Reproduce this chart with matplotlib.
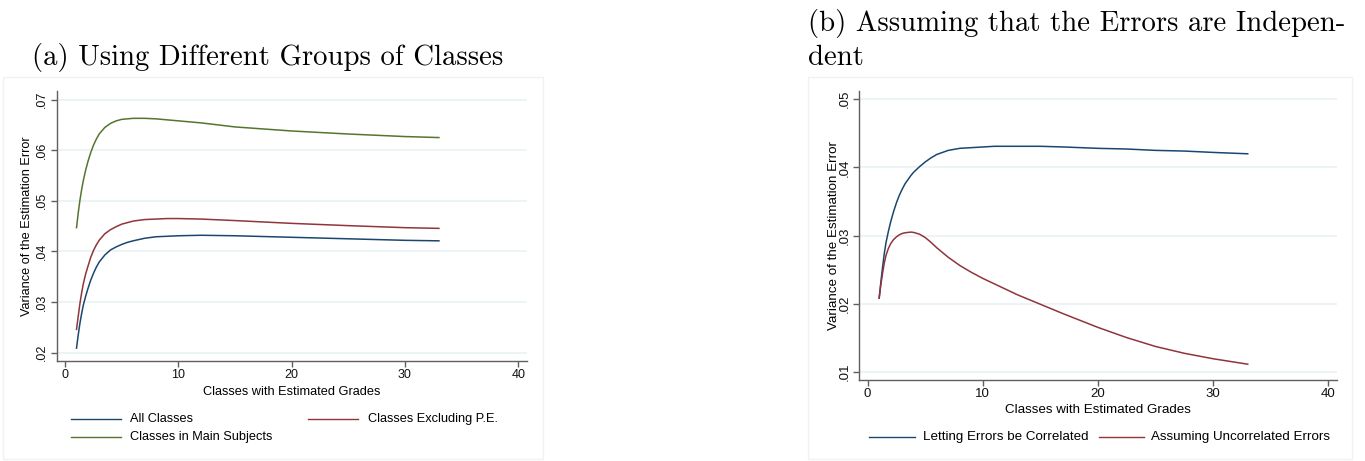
import matplotlib
matplotlib.use("Agg")
import matplotlib.pyplot as plt
from matplotlib.lines import Line2D
from matplotlib.patches import Rectangle

# ---- data: panel (a), variance of the estimation error by group of classes
x_a = [1, 1.15, 1.3, 1.45, 1.6, 1.8, 2, 2.25, 2.5, 2.75, 3, 3.5, 4, 4.5, 5,
       5.5, 6, 7, 8, 9, 10, 12, 15, 20, 25, 30, 33]
all_classes = [0.0209, 0.0235, 0.0258, 0.0277, 0.0294, 0.0311, 0.0326, 0.0343,
               0.0357, 0.0369, 0.0379, 0.0393, 0.0403, 0.0409, 0.0414, 0.0418,
               0.0421, 0.0426, 0.0429, 0.0430, 0.0431, 0.0432, 0.0431, 0.0428,
               0.0425, 0.0422, 0.0421]
excl_pe = [0.0246, 0.0272, 0.0297, 0.0318, 0.0336, 0.0355, 0.0370, 0.0388,
           0.0402, 0.0413, 0.0422, 0.0435, 0.0443, 0.0449, 0.0454, 0.0457,
           0.0460, 0.0463, 0.0464, 0.0465, 0.0465, 0.0464, 0.0461, 0.04555,
           0.0451, 0.0447, 0.04456]
main_subjects = [0.0447, 0.0476, 0.0501, 0.0522, 0.0540, 0.0560, 0.0577, 0.0595,
                 0.0610, 0.0622, 0.0632, 0.0645, 0.0653, 0.0658, 0.0661, 0.0662,
                 0.0663, 0.0663, 0.0662, 0.0660, 0.0658, 0.0654, 0.0646, 0.0638,
                 0.0632, 0.0627, 0.0625]

# ---- data: panel (b), correlated vs. uncorrelated errors
x_b = [1, 1.15, 1.3, 1.45, 1.6, 1.8, 2, 2.25, 2.5, 2.75, 3, 3.25, 3.5, 3.75,
       4, 4.5, 5, 5.5, 6, 6.5, 7, 8, 9, 10, 11, 12, 13, 14, 15, 17, 20, 22.5,
       25, 27.5, 30, 33]
correlated = [0.0208, 0.0232, 0.0254, 0.0274, 0.0290, 0.0306, 0.0320, 0.0335,
              0.0348, 0.0359, 0.0368, 0.0376, 0.0382, 0.0388, 0.0393, 0.0401,
              0.0408, 0.0414, 0.0419, 0.0422, 0.0425, 0.0428, 0.0429, 0.0430,
              0.0431, 0.0431, 0.0431, 0.0431, 0.0431, 0.0430, 0.0428, 0.0427,
              0.0425, 0.0424, 0.0422, 0.0420]
uncorrelated = [0.0208, 0.0228, 0.0245, 0.0260, 0.0271, 0.0281, 0.0288, 0.0294,
                0.0298, 0.0301, 0.0303, 0.0304, 0.03045, 0.0305, 0.03045,
                0.0302, 0.0297, 0.0290, 0.0282, 0.0275, 0.0268, 0.0256, 0.0246,
                0.0237, 0.0229, 0.0221, 0.0213, 0.0206, 0.0199, 0.0185, 0.0165,
                0.0150, 0.0137, 0.0127, 0.0119, 0.0111]

x_ticks = [0, 10, 20, 30, 40]
y_ticks_a = [0.02, 0.03, 0.04, 0.05, 0.06, 0.07]
y_labels_a = [".02", ".03", ".04", ".05", ".06", ".07"]
y_ticks_b = [0.01, 0.02, 0.03, 0.04, 0.05]
y_labels_b = [".01", ".02", ".03", ".04", ".05"]

NAVY = "#1a476f"
MAROON = "#90353b"
GREEN = "#55752f"
GRID = "#eaf2f3"
AXIS = "#606060"
SANS = ["Liberation Sans", "DejaVu Sans"]
SERIF = ["cmr10", "DejaVu Serif"]

W, H = 1365, 461
fig = plt.figure(figsize=(W / 100, H / 100), dpi=100)
fig.patch.set_facecolor("white")


def fx(px):
    return px / W


def fy(py):
    return 1 - py / H


def style_axes(ax, yticks, ylabels, ylim, fs):
    ax.set_xlim(-0.75, 40.75)
    ax.set_ylim(*ylim)
    for s in ("top", "right"):
        ax.spines[s].set_visible(False)
    for s in ("left", "bottom"):
        ax.spines[s].set_color(AXIS)
        ax.spines[s].set_linewidth(1.0)
    ax.set_xticks(x_ticks)
    ax.set_xticklabels([str(t) for t in x_ticks], fontfamily=SANS, fontsize=fs)
    ax.set_yticks(yticks)
    ax.set_yticklabels(ylabels, fontfamily=SANS, fontsize=fs, rotation=90,
                       va="center")
    ax.tick_params(axis="both", direction="out", length=4, width=1.0,
                   color=AXIS, labelcolor="#111111", pad=2)
    ax.grid(axis="y", color=GRID, linewidth=1.2)
    ax.set_axisbelow(True)


# light frames around each graph region
for (x0, y0, x1, y1) in [(3, 77, 543, 459), (808, 77, 1352, 459)]:
    fig.patches.append(Rectangle((fx(x0), fy(y1)), fx(x1) - fx(x0),
                                 fy(y0) - fy(y1), transform=fig.transFigure,
                                 fill=False, edgecolor="#f1f1f1", linewidth=1))

# ---------------- panel (a)
ax1 = fig.add_axes([fx(56.7), fy(361), fx(526.7) - fx(56.7), fy(91.3) - fy(361)])
style_axes(ax1, y_ticks_a, y_labels_a, (0.01836, 0.07164), 9)
ax1.plot(x_a, all_classes, color=NAVY, lw=1.1)
ax1.plot(x_a, excl_pe, color=MAROON, lw=1.1)
ax1.plot(x_a, main_subjects, color=GREEN, lw=1.1)
ax1.set_xlabel("Classes with Estimated Grades", fontfamily=SANS, fontsize=9.2,
               labelpad=3.5)
ax1.set_ylabel("Variance of the Estimation Error", fontfamily=SANS, fontsize=9.2)
ax1.yaxis.set_label_coords(-0.05, 0.5)

fig.text(fx(32), fy(65), "(a) Using Different Groups of Classes",
         fontfamily=SERIF, fontsize=20.7, va="baseline", ha="left")

# legend (a)
leg_a = [(71, 121, 130, 419, "All Classes", NAVY),
         (308, 358, 368, 419, "Classes Excluding P.E.", MAROON),
         (71, 121, 130, 437, "Classes in Main Subjects", GREEN)]
for x0, x1, xt, yy, lab, col in leg_a:
    fig.add_artist(Line2D([fx(x0), fx(x1)], [fy(yy), fy(yy)], color=col,
                          lw=1.0, transform=fig.transFigure))
    fig.text(fx(xt), fy(yy), lab, fontfamily=SANS, fontsize=9.2, va="center",
             ha="left")

# ---------------- panel (b)
ax2 = fig.add_axes([fx(859), fy(380), fx(1337) - fx(859), fy(91) - fy(380)])
style_axes(ax2, y_ticks_b, y_labels_b, (0.00878, 0.05122), 9.5)
ax2.plot(x_b, correlated, color=NAVY, lw=1.1)
ax2.plot(x_b, uncorrelated, color=MAROON, lw=1.1)
ax2.set_xlabel("Classes with Estimated Grades", fontfamily=SANS, fontsize=9.6,
               labelpad=2.6)
ax2.set_ylabel("Variance of the Estimation Error", fontfamily=SANS,
               fontsize=9.6)
ax2.yaxis.set_label_coords(-0.04, 0.5)

fig.text(fx(808), fy(31), "(b) Assuming that the Errors are Indepen-",
         fontfamily=SERIF, fontsize=20.7, va="baseline", ha="left")
fig.text(fx(808), fy(65), "dent", fontfamily=SERIF, fontsize=20.7,
         va="baseline", ha="left")

# legend (b)
leg_b = [(869, 915, 923, 437, "Letting Errors be Correlated", NAVY),
         (1099, 1144, 1151, 437, "Assuming Uncorrelated Errors", MAROON)]
for x0, x1, xt, yy, lab, col in leg_b:
    fig.add_artist(Line2D([fx(x0), fx(x1)], [fy(yy), fy(yy)], color=col,
                          lw=1.0, transform=fig.transFigure))
    fig.text(fx(xt), fy(yy), lab, fontfamily=SANS, fontsize=9.6, va="center",
             ha="left")

fig.savefig("out.png", dpi=100, facecolor="white")
